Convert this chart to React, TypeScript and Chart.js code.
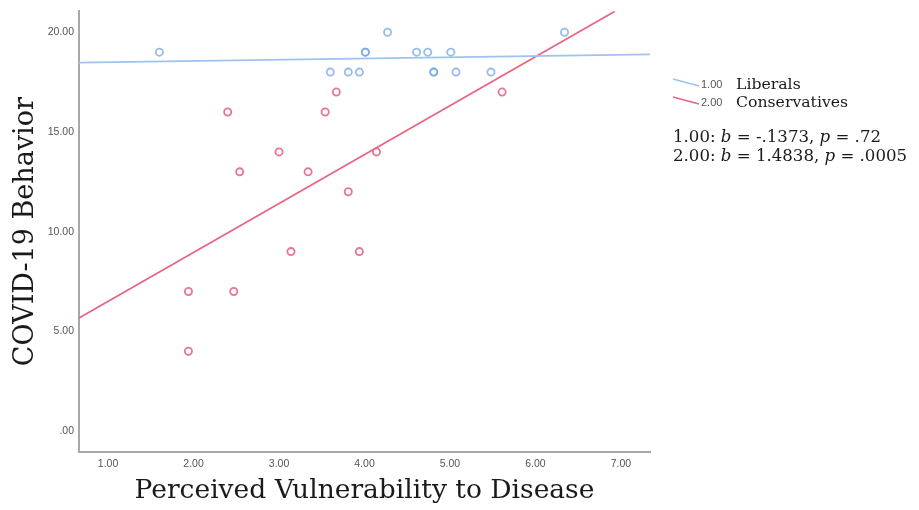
import React, { useEffect, useRef } from 'react';
import { Chart, registerables } from 'chart.js';
Chart.register(...registerables);

// Liberals (group 1.00)
const liberalX = [1.60, 4.27, 6.34, 4.01, 4.01, 4.61, 4.74, 5.01, 3.60, 3.81, 3.94, 4.81, 4.81, 5.07, 5.48];
const liberalY = [19, 20, 20, 19, 19, 19, 19, 19, 18, 18, 18, 18, 18, 18, 18];
// Conservatives (group 2.00)
const conservX = [2.40, 2.54, 3.00, 3.34, 3.14, 3.67, 3.54, 4.14, 3.81, 3.94, 5.61, 1.94, 2.47, 1.94];
const conservY = [16, 13, 14, 13, 9, 17, 16, 14, 12, 9, 17, 7, 7, 4];
// Fit lines (as drawn)
const liberalFitX = [0.66, 7.34];
const liberalFitY = [18.48, 18.89];
const conservFitX = [0.66, 6.93];
const conservFitY = [5.67, 21.05];

const groupCodes = ['1.00', '2.00'];
const groupNames = ['Liberals', 'Conservatives'];
const bValues = ['-.1373', '1.4838'];
const pValues = ['.72', '.0005'];

const xTicks = [1, 2, 3, 4, 5, 6, 7];
const yTicks = [0, 5, 10, 15, 20];

const BLUE_LINE = '#9fc2f0';
const RED_LINE = '#e8657f';
const BLUE_PT = 'rgba(115,165,232,0.75)';
const RED_PT = 'rgba(228,80,120,0.8)';

const fmt = (v: number) => (v === 0 ? '.00' : Number(v).toFixed(2));
const pts = (xs: number[], ys: number[]) => xs.map((x, i) => ({ x, y: ys[i] }));

const legendPlugin = {
  id: 'spssLegend',
  afterDraw(chart: any) {
    const ctx = chart.ctx as CanvasRenderingContext2D;
    ctx.save();
    const colors = [BLUE_LINE, RED_LINE];
    groupCodes.forEach((code, i) => {
      const y = 85 + i * 18;
      ctx.strokeStyle = colors[i];
      ctx.lineWidth = 1.6;
      ctx.beginPath();
      ctx.moveTo(673, y - 6);
      ctx.lineTo(699, y + 1);
      ctx.stroke();
      ctx.textBaseline = 'middle';
      ctx.textAlign = 'left';
      ctx.fillStyle = '#555';
      ctx.font = '11px "Liberation Sans", Arial, sans-serif';
      ctx.fillText(code, 701, y);
      ctx.fillStyle = '#1a1a1a';
      ctx.font = '15.7px "DejaVu Serif", serif';
      ctx.fillText(groupNames[i], 736, y);
    });
    groupCodes.forEach((code, i) => {
      const y = 138 + i * 19;
      const segs: [string, boolean][] = [
        [code + ': ', false],
        ['b', true],
        [' = ' + bValues[i] + ', ', false],
        ['p', true],
        [' = ' + pValues[i], false],
      ];
      let x = 673;
      ctx.fillStyle = '#1a1a1a';
      ctx.textBaseline = 'middle';
      segs.forEach(([t, it]) => {
        ctx.font = (it ? 'italic ' : '') + '16.6px "DejaVu Serif", serif';
        ctx.fillText(t, x, y);
        x += ctx.measureText(t).width;
      });
    });
    ctx.restore();
  },
};

export default function App() {
  const ref = useRef<HTMLCanvasElement>(null);
  useEffect(() => {
    const chart = new Chart(ref.current!, {
      type: 'scatter',
      data: {
        datasets: [
          {
            label: 'Liberals fit',
            data: pts(liberalFitX, liberalFitY),
            showLine: true,
            borderColor: BLUE_LINE,
            borderWidth: 1.8,
            pointRadius: 0,
          },
          {
            label: 'Conservatives fit',
            data: pts(conservFitX, conservFitY),
            showLine: true,
            borderColor: RED_LINE,
            borderWidth: 1.8,
            pointRadius: 0,
          },
          {
            label: 'Liberals',
            data: pts(liberalX, liberalY),
            pointRadius: 3.6,
            pointBorderWidth: 1.8,
            borderColor: BLUE_PT,
            backgroundColor: 'rgba(0,0,0,0)',
          },
          {
            label: 'Conservatives',
            data: pts(conservX, conservY),
            pointRadius: 3.6,
            pointBorderWidth: 1.8,
            borderColor: RED_PT,
            backgroundColor: 'rgba(0,0,0,0)',
          },
        ],
      },
      options: {
        responsive: false,
        animation: false,
        devicePixelRatio: 1,
        layout: { padding: { top: 10, right: 269, bottom: 0, left: 0 } },
        plugins: { legend: { display: false }, tooltip: { enabled: false } },
        scales: {
          x: {
            type: 'linear',
            min: 0.66,
            max: 7.34,
            afterBuildTicks: (s: any) => {
              s.ticks = xTicks.map((v) => ({ value: v }));
            },
            afterFit: (s: any) => {
              s.height = 58;
            },
            ticks: {
              callback: (v: any) => fmt(v),
              font: { family: '"Liberation Sans", Arial, sans-serif', size: 10.5 },
              color: '#555',
              padding: 6,
              autoSkip: false,
              maxRotation: 0,
            },
            grid: { display: false, drawTicks: false },
            border: { color: '#a8a8a8', width: 2 },
            title: {
              display: true,
              text: 'Perceived Vulnerability to Disease',
              font: { family: '"DejaVu Serif", serif', size: 26.5 },
              color: '#1a1a1a',
              padding: { top: 0, bottom: 3 },
            },
          },
          y: {
            type: 'linear',
            min: -1.05,
            max: 21.05,
            afterBuildTicks: (s: any) => {
              s.ticks = yTicks.map((v) => ({ value: v }));
            },
            afterFit: (s: any) => {
              s.width = 79;
            },
            ticks: {
              callback: (v: any) => fmt(v),
              font: { family: '"Liberation Sans", Arial, sans-serif', size: 10.5 },
              color: '#555',
              padding: 5,
            },
            grid: { display: false, drawTicks: false },
            border: { color: '#a8a8a8', width: 2 },
            title: {
              display: true,
              text: 'COVID-19 Behavior',
              font: { family: '"DejaVu Serif", serif', size: 27 },
              color: '#1a1a1a',
              padding: { top: 10, bottom: 0 },
            },
          },
        },
      },
      plugins: [legendPlugin],
    });
    return () => chart.destroy();
  }, []);
  return (
    <div style={{ position: 'absolute', left: 0, top: 0, width: 919, height: 510, background: '#fff' }}>
      <canvas ref={ref} width={919} height={510} style={{ display: 'block', width: 919, height: 510 }} />
    </div>
  );
}
